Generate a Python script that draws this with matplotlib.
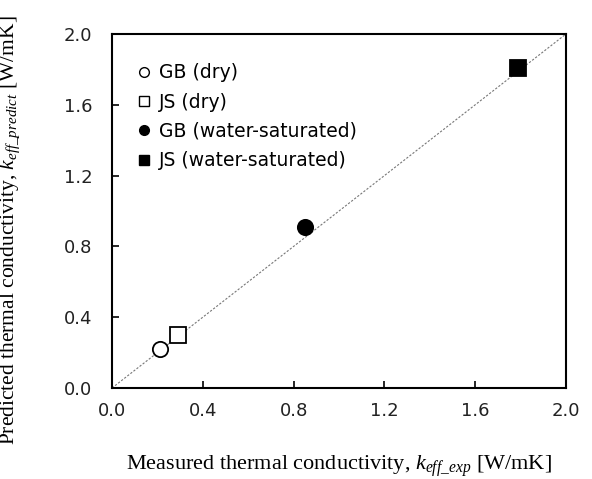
import numpy as np
import matplotlib.pyplot as plt
from matplotlib.lines import Line2D

plt.rcParams['mathtext.fontset'] = 'custom'
plt.rcParams['mathtext.rm'] = 'Liberation Serif'
plt.rcParams['mathtext.it'] = 'Liberation Serif:italic'

# measured vs predicted effective thermal conductivity [W/mK]
labels = ["GB (dry)", "JS (dry)", "GB (water-saturated)", "JS (water-saturated)"]
k_exp = [0.21, 0.29, 0.85, 1.79]
k_pred = [0.22, 0.30, 0.91, 1.81]
markers = ["o", "s", "o", "s"]
filled = [False, False, True, True]

ticks = [0.0, 0.4, 0.8, 1.2, 1.6, 2.0]

fig = plt.figure(figsize=(5.92, 4.79), dpi=100)
ax = fig.add_axes([112 / 592, 1 - 388 / 479, 454 / 592, 354 / 479])

ax.plot([0, 2], [0, 2], linestyle=(0, (2, 1.5)), color="#777777", linewidth=0.8, zorder=1)

handles = []
for x, y, m, f, lab in zip(k_exp, k_pred, markers, filled, labels):
    fc = "black" if f else "white"
    ax.plot(x, y, marker=m, markersize=11, markerfacecolor=fc, markeredgecolor="black",
            markeredgewidth=1.3, linestyle="none", zorder=3)
    handles.append(Line2D([], [], marker=m, markersize=7, markerfacecolor=fc,
                          markeredgecolor="black", markeredgewidth=1.0, linestyle="none", label=lab))

ax.set_xlim(0, 2)
ax.set_ylim(0, 2)
ax.set_xticks(ticks)
ax.set_yticks(ticks)
ax.set_xticklabels([f"{t:.1f}" for t in ticks], fontsize=13, family="DejaVu Sans", color="#222222")
ax.set_yticklabels([f"{t:.1f}" for t in ticks], fontsize=13, family="DejaVu Sans", color="#222222")
ax.tick_params(direction="in", length=5, width=1.2)
ax.tick_params(axis="x", pad=10)
ax.tick_params(axis="y", pad=14)
for s in ax.spines.values():
    s.set_linewidth(1.5)

ax.set_xlabel(r"Measured thermal conductivity, $\mathit{k}_{\mathit{eff\_exp}}$ [W/mK]",
              family="Liberation Serif", fontsize=16, labelpad=24)
ax.set_ylabel(r"Predicted thermal conductivity, $\mathit{k}_{\mathit{eff\_predict}}$ [W/mK]",
              family="Liberation Serif", fontsize=15.5)
ax.yaxis.set_label_coords(-0.198, 0.445)

ax.legend(handles=handles, loc="upper left", bbox_to_anchor=(0.02, 0.965), frameon=False,
          prop={"family": "DejaVu Sans", "size": 13.5}, handlelength=0.6, handletextpad=0.5,
          labelspacing=0.55, borderaxespad=0.5)

fig.savefig("out.png", dpi=100)
